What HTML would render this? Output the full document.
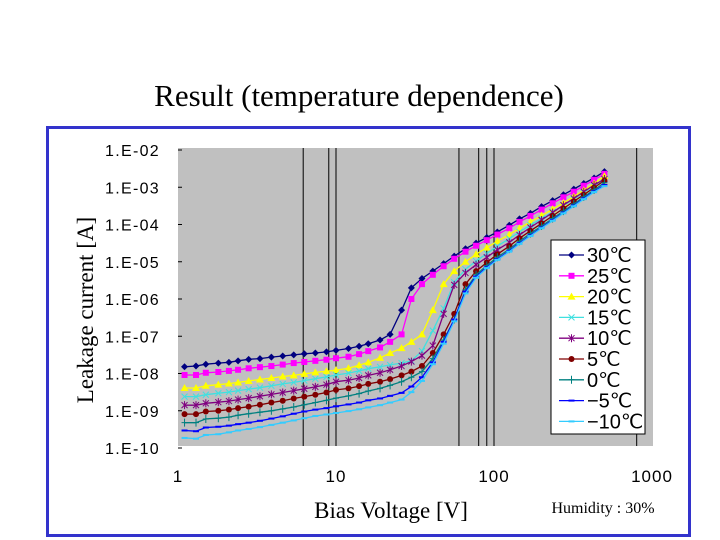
<!DOCTYPE html>
<html><head><meta charset="utf-8"><style>
body{margin:0;background:#fff;width:720px;height:540px;overflow:hidden}
svg{display:block}
</style></head><body>
<svg id="c" width="720" height="540" xmlns="http://www.w3.org/2000/svg">
<text x="359" y="106" text-anchor="middle" font-family="Liberation Serif, serif" font-size="31">Result (temperature dependence)</text>
<rect x="47.5" y="127.5" width="642" height="408" fill="none" stroke="#3333cc" stroke-width="3"/>
<rect x="178" y="148" width="475" height="298" fill="#c0c0c0"/>
<g id="grid"></g><g id="axes"></g><g id="series"></g>
<text transform="translate(93,310) rotate(-90)" text-anchor="middle" font-family="Liberation Serif, serif" font-size="23">Leakage current [A]</text>
<text x="391" y="518" text-anchor="middle" font-family="Liberation Serif, serif" font-size="23">Bias Voltage [V]</text>
<text x="603" y="513" text-anchor="middle" font-family="Liberation Serif, serif" font-size="16">Humidity : 30%</text>
<g id="legend"></g>
</svg>
<script>
const voltages=[1.1,1.3,1.5,1.8,2.1,2.4,2.8,3.3,3.9,4.6,5.4,6.3,7.4,8.7,10,12,14,16,19,22,26,30,35,41,48,56,66,77,90,105,125,145,170,200,235,275,320,370,430,500];
const seriesNames=["30℃","25℃","20℃","15℃","10℃","5℃","0℃","−5℃","−10℃"];
const s30=[-7.82,-7.80,-7.75,-7.72,-7.70,-7.66,-7.62,-7.60,-7.56,-7.53,-7.50,-7.47,-7.45,-7.42,-7.38,-7.33,-7.27,-7.20,-7.10,-6.95,-6.30,-5.70,-5.45,-5.25,-5.05,-4.85,-4.65,-4.50,-4.35,-4.20,-4.02,-3.85,-3.70,-3.52,-3.36,-3.20,-3.05,-2.90,-2.75,-2.58];
const s25=[-8.04,-8.04,-7.98,-7.96,-7.93,-7.90,-7.86,-7.83,-7.80,-7.76,-7.72,-7.69,-7.66,-7.63,-7.59,-7.55,-7.48,-7.40,-7.30,-7.15,-6.95,-6.00,-5.60,-5.35,-5.12,-4.92,-4.73,-4.57,-4.42,-4.27,-4.10,-3.93,-3.77,-3.60,-3.43,-3.27,-3.12,-2.96,-2.80,-2.64];
const s20=[-8.39,-8.39,-8.33,-8.30,-8.27,-8.24,-8.20,-8.16,-8.12,-8.08,-8.05,-8.01,-7.97,-7.94,-7.91,-7.86,-7.78,-7.70,-7.58,-7.45,-7.32,-7.15,-6.95,-6.30,-5.60,-5.25,-5.00,-4.80,-4.62,-4.45,-4.27,-4.10,-3.93,-3.76,-3.59,-3.42,-3.25,-3.08,-2.90,-2.70];
const s15=[-8.62,-8.62,-8.57,-8.53,-8.50,-8.46,-8.42,-8.38,-8.33,-8.28,-8.24,-8.19,-8.14,-8.09,-8.04,-7.99,-7.93,-7.87,-7.82,-7.77,-7.72,-7.66,-7.40,-6.85,-6.25,-5.55,-5.20,-4.98,-4.78,-4.58,-4.38,-4.20,-4.02,-3.84,-3.66,-3.49,-3.32,-3.14,-2.96,-2.78];
const s10=[-8.85,-8.85,-8.80,-8.77,-8.74,-8.70,-8.66,-8.61,-8.56,-8.51,-8.46,-8.41,-8.36,-8.30,-8.22,-8.18,-8.12,-8.05,-7.98,-7.90,-7.80,-7.68,-7.52,-7.25,-6.40,-5.62,-5.30,-5.08,-4.88,-4.68,-4.48,-4.28,-4.08,-3.88,-3.68,-3.48,-3.30,-3.12,-2.94,-2.78];
const s5=[-9.09,-9.09,-9.02,-9.00,-8.97,-8.93,-8.89,-8.84,-8.78,-8.73,-8.67,-8.62,-8.57,-8.51,-8.44,-8.40,-8.34,-8.28,-8.22,-8.15,-8.05,-7.95,-7.80,-7.45,-6.95,-6.40,-5.60,-5.25,-5.02,-4.80,-4.58,-4.37,-4.17,-3.97,-3.77,-3.57,-3.38,-3.20,-3.01,-2.82];
const s0=[-9.32,-9.32,-9.22,-9.20,-9.17,-9.12,-9.08,-9.04,-9.00,-8.95,-8.90,-8.84,-8.78,-8.72,-8.66,-8.60,-8.54,-8.47,-8.40,-8.32,-8.22,-8.10,-7.95,-7.60,-7.10,-6.55,-5.75,-5.35,-5.10,-4.88,-4.66,-4.45,-4.24,-4.04,-3.84,-3.64,-3.45,-3.26,-3.07,-2.88];
const sm5=[-9.53,-9.55,-9.45,-9.43,-9.40,-9.36,-9.32,-9.27,-9.21,-9.15,-9.08,-9.02,-8.97,-8.93,-8.88,-8.83,-8.78,-8.72,-8.67,-8.60,-8.52,-8.35,-8.10,-7.70,-7.15,-6.55,-5.80,-5.40,-5.15,-4.93,-4.71,-4.50,-4.29,-4.08,-3.88,-3.68,-3.49,-3.30,-3.11,-2.94];
const sm10=[-9.73,-9.75,-9.65,-9.63,-9.58,-9.53,-9.49,-9.44,-9.38,-9.32,-9.26,-9.20,-9.14,-9.10,-9.06,-9.01,-8.96,-8.91,-8.85,-8.78,-8.70,-8.50,-8.20,-7.75,-7.20,-6.60,-5.85,-5.43,-5.17,-4.95,-4.73,-4.52,-4.31,-4.10,-3.90,-3.70,-3.51,-3.32,-3.13,-2.97];
const yTickLabels=["1.E-02","1.E-03","1.E-04","1.E-05","1.E-06","1.E-07","1.E-08","1.E-09","1.E-10"];
const xTickLabels=["1","10","100","1000"];
const xTickValues=[1,10,100,1000];
const refLines=[6.2,9,10,60,80,90,100,800];

const NS="http://www.w3.org/2000/svg";
function X(v){return 178+158*Math.log10(v);}
function Y(l){return 150+37.25*(-2-l);}
function mk(tag,attrs,parent){const e=document.createElementNS(NS,tag);for(const k in attrs)e.setAttribute(k,attrs[k]);parent.appendChild(e);return e;}
const grid=document.getElementById('grid'),axes=document.getElementById('axes'),ser=document.getElementById('series'),leg=document.getElementById('legend');
refLines.forEach(v=>{const l=mk('line',{x1:X(v),x2:X(v),y1:148,y2:446,stroke:'#000','stroke-width':1},grid);

});
yTickLabels.forEach((t,i)=>{const e=mk('text',{x:160,y:Y(-2-i)+6,'text-anchor':'end','font-family':'Liberation Sans, sans-serif','font-size':16,'letter-spacing':'1.3'},axes);e.textContent=t;


const m=mk('line',{x1:178,x2:182,y1:Y(-2-i),y2:Y(-2-i),stroke:'#000'},axes);

});
xTickLabels.forEach((t,i)=>{const e=mk('text',{x:X(xTickValues[i]),y:482,'text-anchor':'middle','font-family':'Liberation Sans, sans-serif','font-size':17,'letter-spacing':'1'},axes);e.textContent=t;

});
const allSeries=[s30,s25,s20,s15,s10,s5,s0,sm5,sm10];
const colors=['#000080','#ff00ff','#ffff00','#40e0e0','#800080','#800000','#008080','#0000ff','#33ccff'];
const markers=['diamond','square','triangle','x','star','circle','plus','dash','dash'];
function marker(g,type,x,y,c){
 if(type==='diamond')mk('polygon',{points:`${x},${y-3.5} ${x+3.5},${y} ${x},${y+3.5} ${x-3.5},${y}`,fill:c},g);
 else if(type==='square')mk('rect',{x:x-3,y:y-3,width:6,height:6,fill:c},g);
 else if(type==='triangle')mk('polygon',{points:`${x},${y-4} ${x+4},${y+3} ${x-4},${y+3}`,fill:c},g);
 else if(type==='circle')mk('circle',{cx:x,cy:y,r:3,fill:c},g);
 else if(type==='x')mk('path',{d:`M${x-3},${y-3}L${x+3},${y+3}M${x-3},${y+3}L${x+3},${y-3}`,stroke:c,'stroke-width':1},g);
 else if(type==='star')mk('path',{d:`M${x-3},${y-3}L${x+3},${y+3}M${x-3},${y+3}L${x+3},${y-3}M${x},${y-4}L${x},${y+4}`,stroke:c,'stroke-width':1},g);
 else if(type==='plus')mk('path',{d:`M${x-3},${y}L${x+3},${y}M${x},${y-4}L${x},${y+4}`,stroke:c,'stroke-width':1},g);
 else mk('rect',{x:x-3,y:y-1,width:6,height:2,fill:c},g);
}
allSeries.forEach((s,si)=>{
 const g=mk('g',{},ser);
 
 
 const pts=s.map((v,i)=>X(voltages[i]).toFixed(1)+','+Y(v).toFixed(1)).join(' ');
 mk('polyline',{points:pts,fill:'none',stroke:colors[si],'stroke-width':1.3},g);
 s.forEach((v,i)=>marker(g,markers[si],X(voltages[i]),Y(v),colors[si]));
});
const lb=mk('rect',{x:551,y:240,width:94,height:194,fill:'#fff',stroke:'#000','stroke-width':1},leg);


seriesNames.forEach((n,i)=>{const y=255+i*20.8;const g=mk('g',{},leg);


mk('line',{x1:559,x2:584,y1:y,y2:y,stroke:colors[i],'stroke-width':1.3},g);
marker(g,markers[i],571.5,y,colors[i]);
const t=mk('text',{x:587,y:y+7,'font-family':'Liberation Sans, sans-serif','font-size':20},g);t.textContent=n;});
</script>
</body></html>
